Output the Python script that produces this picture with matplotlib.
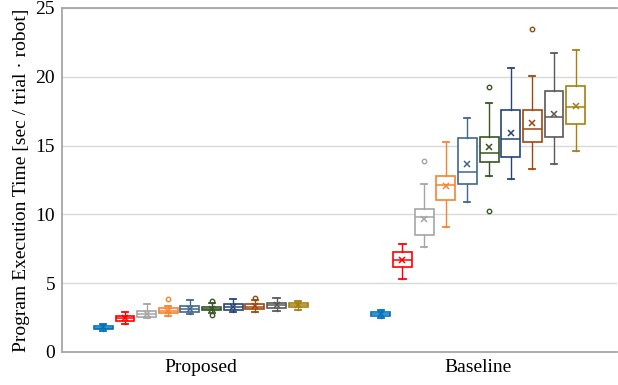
import matplotlib
matplotlib.use("Agg")
import matplotlib.pyplot as plt

# Groups and per-series box statistics (sec / trial / robot)
categories = ["Proposed", "Baseline"]
series_colors = ["#0070C0", "#FF0000", "#A5A5A5", "#F7832F", "#41668F",
                 "#375623", "#264478", "#9E480E", "#595959", "#A4800E"]

proposed_low = [1.55, 2.01, 2.50, 2.59, 2.74, 2.86, 2.88, 2.88, 2.98, 3.03]
proposed_q1 = [1.65, 2.25, 2.52, 2.81, 2.93, 3.03, 3.05, 3.12, 3.20, 3.25]
proposed_med = [1.78, 2.45, 2.74, 3.00, 3.12, 3.15, 3.25, 3.30, 3.38, 3.45]
proposed_q3 = [1.89, 2.64, 2.96, 3.17, 3.32, 3.27, 3.47, 3.49, 3.58, 3.56]
proposed_high = [2.03, 2.88, 3.46, 3.34, 3.80, 3.54, 3.87, 3.78, 3.95, 3.68]
proposed_mean = [1.79, 2.47, 2.76, 3.00, 3.13, 3.16, 3.27, 3.32, 3.40, 3.43]
proposed_fliers = [[], [], [], [3.83], [], [3.68, 2.71], [], [3.95], [], []]

baseline_low = [2.47, 5.33, 7.65, 9.08, 10.93, 12.77, 12.55, 13.32, 13.64, 14.61]
baseline_q1 = [2.62, 6.20, 8.48, 11.07, 12.21, 13.83, 14.15, 15.26, 15.65, 16.59]
baseline_med = [2.77, 6.69, 9.79, 12.11, 13.10, 14.44, 15.45, 16.18, 17.10, 17.78]
baseline_q3 = [2.91, 7.24, 10.41, 12.79, 15.55, 15.65, 17.56, 17.59, 18.97, 19.33]
baseline_high = [3.03, 7.83, 12.19, 15.24, 16.98, 18.07, 20.66, 20.06, 21.75, 21.97]
baseline_mean = [2.78, 6.70, 9.64, 12.10, 13.66, 14.87, 15.89, 16.67, 17.32, 17.90]
baseline_fliers = [[], [], [13.88], [], [], [19.28, 10.22], [], [23.45], [], []]

y_ticks = [0, 5, 10, 15, 20, 25]

groups = [
    (proposed_low, proposed_q1, proposed_med, proposed_q3, proposed_high,
     proposed_mean, proposed_fliers),
    (baseline_low, baseline_q1, baseline_med, baseline_q3, baseline_high,
     baseline_mean, baseline_fliers),
]

plt.rcParams["font.family"] = ["Liberation Serif", "DejaVu Serif"]
plt.rcParams["font.size"] = 14

fig = plt.figure(figsize=(6.18, 3.85), dpi=100)
ax = fig.add_axes([62 / 618, 1 - 352 / 385, 555 / 618, 344 / 385])

step = 0.078
box_w = 0.068
n = len(series_colors)

for c, (lo, q1, med, q3, hi, mn, fl) in enumerate(groups):
    for i in range(n):
        col = series_colors[i]
        stats = [dict(whislo=lo[i], q1=q1[i], med=med[i], q3=q3[i],
                      whishi=hi[i], mean=mn[i], fliers=fl[i])]
        pos = c + (i - (n - 1) / 2) * step
        ax.bxp(stats, positions=[pos], widths=box_w, showmeans=True,
               patch_artist=True, capwidths=0.022,
               boxprops=dict(facecolor="white", edgecolor=col, linewidth=1.2),
               medianprops=dict(color=col, linewidth=1.1),
               whiskerprops=dict(color=col, linewidth=1.0),
               capprops=dict(color=col, linewidth=1.3),
               meanprops=dict(marker="x", markeredgecolor=col,
                              markersize=5, markeredgewidth=1.1),
               flierprops=dict(marker="o", markerfacecolor="none",
                               markeredgecolor=col, markersize=3.2,
                               markeredgewidth=1.0),
               manage_ticks=False, zorder=3)

ax.set_xlim(-0.5, 1.5)
ax.set_ylim(0, 25)
ax.set_yticks(y_ticks)
ax.set_xticks(range(len(categories)))
ax.set_xticklabels(categories)
ax.tick_params(axis="both", length=0, pad=5, labelsize=14)
ax.yaxis.grid(True, color="#D9D9D9", linewidth=1.0, zorder=0)
ax.set_axisbelow(True)

for side in ("left", "bottom", "top"):
    ax.spines[side].set_color("#A6A6A6")
    ax.spines[side].set_linewidth(1.3)
ax.spines["right"].set_visible(False)

ax.set_ylabel("Program Execution Time [sec / trial \u00b7 robot]", fontsize=14,
              labelpad=4)

fig.savefig("out.png", dpi=100)
